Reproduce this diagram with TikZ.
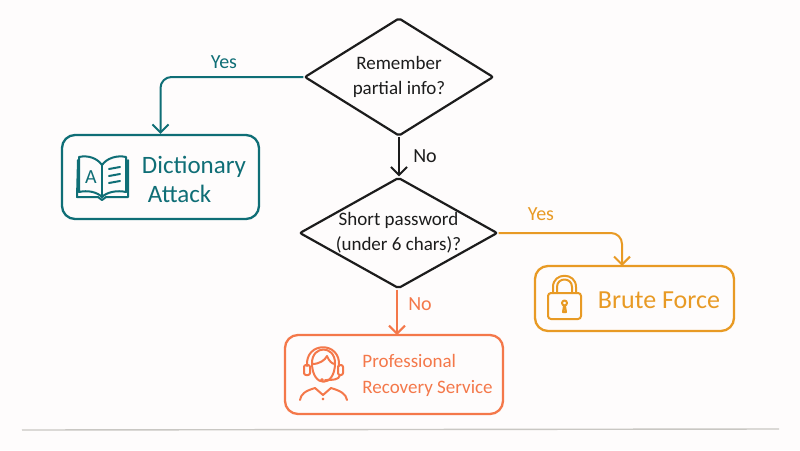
\documentclass[tikz,border=0pt]{standalone}
\usepackage{fontspec}
\setmainfont{Carlito}
\usepackage{xcolor}
\usetikzlibrary{arrows.meta,shapes.geometric}
\definecolor{paper}{HTML}{FEFCFC}
\definecolor{ink}{HTML}{1C1C1C}
\definecolor{tealc}{HTML}{0F6E76}
\definecolor{amberc}{HTML}{E89A24}
\definecolor{coralc}{HTML}{F4784A}
\definecolor{rulec}{HTML}{C9C7C3}
\tikzset{
  decision/.style={draw=ink,line width=2.2pt,shape=diamond,rounded corners=2pt,inner xsep=-30pt,inner ysep=-10pt,align=center,font=\fontsize{19}{25}\selectfont,text=ink},
  result/.style={draw=#1,line width=2.3pt,rounded corners=13pt},
  rlabel/.style={font=\fontsize{25}{29}\selectfont},
  branch/.style={draw=#1,text=#1,line width=2pt,rounded corners=11pt,-{Straight Barb[length=8pt,width=16pt,line width=2pt]}},
  icon/.style={draw=#1,line width=2pt,line cap=round,line join=round}
}
\begin{document}
\begin{tikzpicture}[x=1pt,y=-1pt]
  \useasboundingbox[fill=paper] (0,0) rectangle (800,450);
  % decisions
  \node[decision,minimum width=189pt,minimum height=118pt] (partial) at (399,77) {Remember\\partial info?};
  \node[decision,minimum width=198pt,minimum height=111pt] (short) at (398.5,233) {Short password\\(under 6 chars)?};
  % results
  \node[result=tealc,minimum width=197pt,minimum height=84pt] (dict) at (160.5,177) {};
  \node[result=amberc,minimum width=199pt,minimum height=65pt] (brute) at (634.5,298.5) {};
  \node[result=coralc,minimum width=218pt,minimum height=79pt] (pro) at (394,374.5) {};
  \node[rlabel,text=tealc,align=left] (dicttext) at (194,179) {Dictionary\\\hspace*{6pt}Attack};
  \node[rlabel,text=amberc,font=\fontsize{26}{29}\selectfont] (brutetext) at (659,300) {Brute Force};
  \node[text=coralc,align=left,font=\fontsize{19}{26}\selectfont] (protext) at (427.5,375) {Professional\\Recovery Service};
  % connectors
  \coordinate (brutein) at (622,266);
  \coordinate (proin) at (397,335);
  \draw[branch=tealc] (partial.west) -| (dict.north);
  \draw[branch=ink] (partial.south) -- (partial.south |- short.north);
  \draw[branch=amberc] (short.east) -| (brutein);
  \draw[branch=coralc] (proin |- short.south) -- (proin);
  \node[text=tealc,font=\fontsize{20}{24}\selectfont] (yesa) at (224,62) {Yes};
  \node[text=ink,font=\fontsize{20}{24}\selectfont] (noa) at (425,156) {No};
  \node[text=amberc,font=\fontsize{20}{24}\selectfont] (yesb) at (541,214) {Yes};
  \node[text=coralc,font=\fontsize{20}{24}\selectfont] (nob) at (420,304) {No};
  % book
  \draw[icon=tealc] (79,157) .. controls (88,155) and (97,158) .. (102,165) .. controls (107,158) and (117,155) .. (126,157) -- (126,192) .. controls (117,190) and (107,192) .. (102,197) .. controls (97,192) and (88,190) .. (79,192) -- cycle;
  \draw[icon=tealc] (102,165) -- (102,197);
  \draw[icon=tealc] (78,160) -- (77,197) -- (98,197) -- (102,200) -- (106,197) -- (128,197) -- (128,160);
  \node[text=tealc,font=\fontsize{20}{20}\selectfont] (letter) at (91,177) {A};
  \foreach \yy in {168,175,182}
    \draw[icon=tealc] (109,\yy+1) -- (120,\yy-1);
  % lock
  \draw[icon=amberc,rounded corners=3pt] (548,293) rectangle (581,319);
  \draw[icon=amberc] (553,293) -- (553,287) .. controls (553,272) and (576,272) .. (576,287) -- (576,293);
  \draw[icon=amberc] (557,293) -- (557,287) .. controls (557,277) and (572,277) .. (572,287) -- (572,293);
  \draw[icon=amberc] (564.5,303) circle (2.5pt);
  \draw[icon=amberc] (564,306) -- (563,312) -- (566,312) -- (565,306);
  % headset
  \draw[icon=coralc] (312,363) .. controls (312,388) and (335,388) .. (335,363) .. controls (335,345) and (312,345) .. (312,363) -- cycle;
  \draw[icon=coralc] (312,364) .. controls (320,364) and (325,360) .. (327,356) .. controls (329,361) and (332,364) .. (335,364);
  \draw[icon=coralc] (307,366) .. controls (305,341) and (341,341) .. (339,366);
  \draw[icon=coralc,rounded corners=2pt] (304,365) rectangle (310,375);
  \draw[icon=coralc,rounded corners=2pt] (338,365) rectangle (343,375);
  \draw[icon=coralc] (340,375) .. controls (339,380) and (333,380) .. (325,380);
  \draw[icon=coralc,fill=coralc] (322,380) circle (1pt);
  \draw[icon=coralc] (300,400) .. controls (301,394) and (305,391) .. (315,388) -- (323,395) -- (331,388) .. controls (341,391) and (346,394) .. (347,400);
  \draw[icon=coralc,fill=coralc] (323,399) circle (0.4pt);
  % rule
  \coordinate (rulea) at (22,430);
  \coordinate (ruleb) at (779,429);
  \draw[draw=rulec,line width=1.4pt] (rulea) -- (ruleb);
\end{tikzpicture}
\end{document}
